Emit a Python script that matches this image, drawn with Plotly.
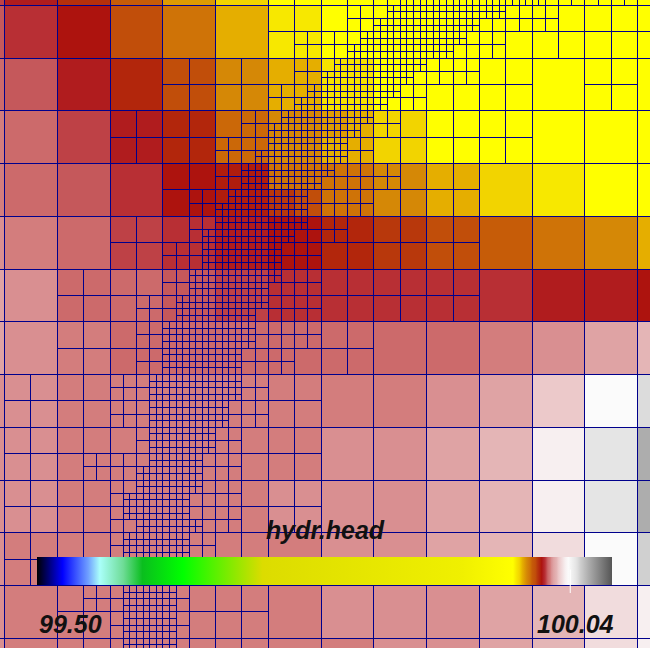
import math
import numpy as np
import plotly.graph_objects as go

# coarse grid indices, the outer ones are only partly inside the view
COLS = list(range(-1, 13))
ROWS = list(range(-1, 13))

# head per coarse cell, row by row (cols -1..12)
head_rm1 = [99.978, 99.975, 99.971, 99.965, 99.958, 99.953, 99.947, 99.947, 99.947, 99.947, 99.947, 99.947, 99.947, 99.947]
head_r0 = [99.979, 99.977, 99.974, 99.968, 99.963, 99.956, 99.950, 99.947, 99.947, 99.947, 99.947, 99.947, 99.947, 99.947]
head_r1 = [99.980, 99.979, 99.975, 99.972, 99.968, 99.960, 99.956, 99.951, 99.947, 99.947, 99.947, 99.947, 99.947, 99.947]
head_r2 = [99.982, 99.980, 99.978, 99.975, 99.972, 99.964, 99.960, 99.956, 99.953, 99.947, 99.947, 99.947, 99.947, 99.947]
head_r3 = [99.982, 99.980, 99.979, 99.977, 99.974, 99.973, 99.965, 99.963, 99.960, 99.956, 99.953, 99.950, 99.947, 99.947]
head_r4 = [99.983, 99.982, 99.980, 99.978, 99.977, 99.975, 99.974, 99.972, 99.970, 99.968, 99.965, 99.963, 99.960, 99.956]
head_r5 = [99.985, 99.983, 99.980, 99.980, 99.979, 99.978, 99.977, 99.977, 99.977, 99.977, 99.977, 99.975, 99.975, 99.974]
head_r6 = [99.985, 99.983, 99.982, 99.980, 99.980, 99.980, 99.980, 99.980, 99.980, 99.980, 99.982, 99.983, 99.985, 99.988]
head_r7 = [99.983, 99.983, 99.982, 99.982, 99.982, 99.982, 99.982, 99.982, 99.982, 99.983, 99.985, 99.990, 99.999, 100.008]
head_r8 = [99.983, 99.983, 99.982, 99.982, 99.982, 99.982, 99.982, 99.983, 99.983, 99.985, 99.988, 99.996, 100.006, 100.018]
head_r9 = [99.983, 99.983, 99.982, 99.982, 99.982, 99.982, 99.983, 99.983, 99.983, 99.985, 99.988, 99.996, 100.006, 100.018]
head_r10 = [99.983, 99.982, 99.982, 99.982, 99.982, 99.982, 99.982, 99.983, 99.983, 99.985, 99.988, 99.993, 99.999, 100.010]
head_r11 = [99.983, 99.982, 99.982, 99.982, 99.982, 99.982, 99.982, 99.983, 99.983, 99.983, 99.985, 99.988, 99.993, 99.996]
head_r12 = [99.983, 99.982, 99.982, 99.982, 99.982, 99.982, 99.982, 99.982, 99.983, 99.983, 99.985, 99.988, 99.993, 99.996]
HEADS = [head_rm1, head_r0, head_r1, head_r2, head_r3, head_r4, head_r5, head_r6,
         head_r7, head_r8, head_r9, head_r10, head_r11, head_r12]

# half cells that differ from their coarse cell, (half col, half row) -> head
HALF_HEADS = {(10, 6): 99.963, (11, 6): 99.963, (10, 7): 99.970, (11, 7): 99.968, (12, 4): 99.958}

# coarse cells split in two, row -> cols
SPLIT_COARSE = {
    -1: [5, 6, 7, 8, 9, 10, 11],
    0: [5, 6, 7, 8, 9, 10, 11, 12],
    1: [3, 4, 5, 6, 7, 8, 9, 11],
    2: [2, 3, 4, 5, 6, 7, 8, 9],
    3: [3, 4, 5, 6, 7, 8],
    4: [2, 3, 4, 5, 6, 7, 8],
    5: [1, 2, 3, 4, 5, 6, 7, 8],
    6: [1, 2, 3, 4, 5, 6],
    7: [0, 1, 2, 3, 4, 5],
    8: [0, 1, 2, 3, 4, 5],
    9: [0, 1, 2, 3, 4, 5],
    10: [0, 1, 2, 3, 4],
    11: [1, 2, 3, 4],
    12: [1, 2, 3, 4],
}

# half cells split again, half row -> (first, end) in quarter columns
SPLIT_HALF = {
    -1: (28, 48), 0: (26, 42), 1: (22, 38), 2: (22, 36), 3: (20, 32), 4: (18, 30), 5: (16, 28),
    6: (16, 30), 7: (14, 28), 8: (14, 26), 9: (12, 24), 10: (12, 24), 11: (10, 24), 12: (10, 24),
    13: (10, 22), 14: (8, 20), 15: (8, 20), 16: (10, 18), 17: (6, 18), 18: (8, 18), 19: (8, 18),
    20: (8, 16), 21: (8, 16), 22: (6, 14), 23: (8, 14), 24: (8, 14),
}

# quarter cells split again, quarter row -> (first, end) in quarter columns
SPLIT_QUARTER = {
    -1: (30, 41), 0: (29, 38), 1: (28, 36), 2: (27, 35), 3: (26, 34), 4: (25, 32), 5: (24, 31),
    6: (23, 30), 7: (22, 29), 8: (21, 28), 9: (20, 27), 10: (20, 26), 11: (19, 26), 12: (18, 25),
    13: (18, 24), 14: (17, 23), 15: (16, 23), 16: (16, 23), 17: (15, 22), 18: (15, 21), 19: (15, 21),
    20: (14, 21), 21: (14, 20), 22: (13, 20), 23: (13, 19), 24: (12, 19), 25: (12, 19), 26: (12, 18),
    27: (12, 18), 28: (11, 18), 29: (11, 18), 30: (11, 17), 31: (11, 17), 32: (11, 16), 33: (11, 16),
    34: (11, 15), 35: (10, 15), 36: (10, 15), 37: (9, 14), 38: (9, 14), 39: (10, 15), 40: (9, 14),
    41: (9, 14), 42: (9, 14), 43: (9, 13), 44: (9, 13), 45: (9, 13), 46: (9, 13), 47: (9, 13), 48: (9, 13),
}

# colour table of the bar
STOP_HEADS = [99.5, 99.524, 99.548, 99.559, 99.581, 99.599, 99.637, 99.712, 99.90, 99.947, 99.950, 99.953,
              99.956, 99.960, 99.963, 99.965, 99.968, 99.970, 99.972, 99.974, 99.975, 99.977, 99.978, 99.979,
              99.980, 99.982, 99.983, 99.985, 99.988, 99.990, 99.993, 99.996, 99.999, 100.006, 100.008,
              100.010, 100.018, 100.04]
STOP_COLORS = ['#000000', '#0000ff', '#6f9fff', '#aafffa', '#6edc96', '#0abe1e', '#00ff00', '#dcdc00', '#f0f000',
               '#ffff00', '#f7e800', '#f2d400', '#e5ae00', '#d58806', '#cf7307', '#c65c08', '#c14e0a', '#b8380c',
               '#b2260c', '#ad130e', '#b01c1e', '#b82f34', '#be4146', '#c5585b', '#cc6a6b', '#d37d7d', '#d98f91',
               '#dfa3a4', '#e4b5b6', '#ecc9ca', '#f1dcdd', '#f7eff0', '#fbfbfb', '#e5e5e5', '#dcdcdc', '#d0d0d0',
               '#adadad', '#555555']

VALUE_MARK = 100.0008
LABEL_MIN = '99.50'
LABEL_MAX = '100.04'
BAR_TITLE = 'hydr.head'

W, H = 650, 648
X0, DX = 4.5, 52.77
Y0, DY = 5.3, 52.75


def snap(u, o, d):
    # keep a mesh line on one row of pixels, as the original raster does
    return (math.floor(o + d * u) + 0.5 - o) / d


def build_mesh():
    coarse = {(c, r) for r, cs in SPLIT_COARSE.items() for c in cs}
    half = set()
    for v, (a, b) in SPLIT_HALF.items():
        for q in range(a, b, 2):
            half.add((q // 2, v))
    quarter = set()
    for r, (a, b) in SPLIT_QUARTER.items():
        for q in range(a, b):
            quarter.add((q, r))

    xs, ys = [], []

    def box(x, y, s):
        x1, x2 = snap(x, X0, DX), snap(x + s, X0, DX)
        y1, y2 = snap(y, Y0, DY), snap(y + s, Y0, DY)
        xs.extend([x1, x2, x2, x1, x1, None])
        ys.extend([y1, y1, y2, y2, y1, None])

    for r in ROWS:
        for c in COLS:
            if (c, r) not in coarse:
                box(c, r, 1)
                continue
            for hx in (2 * c, 2 * c + 1):
                for hy in (2 * r, 2 * r + 1):
                    if (hx, hy) not in half:
                        box(hx / 2, hy / 2, 0.5)
                        continue
                    for qx in (2 * hx, 2 * hx + 1):
                        for qy in (2 * hy, 2 * hy + 1):
                            if (qx, qy) not in quarter:
                                box(qx / 4, qy / 4, 0.25)
                                continue
                            for fx in (2 * qx, 2 * qx + 1):
                                for fy in (2 * qy, 2 * qy + 1):
                                    box(fx / 8, fy / 8, 0.125)
    return xs, ys


mesh_x, mesh_y = build_mesh()
scale = [[(h - STOP_HEADS[0]) / (STOP_HEADS[-1] - STOP_HEADS[0]), c] for h, c in zip(STOP_HEADS, STOP_COLORS)]

# heads on the half cell raster
z = np.repeat(np.repeat(np.array(HEADS), 2, axis=0), 2, axis=1)
for (hx, hy), val in HALF_HEADS.items():
    z[hy - 2 * ROWS[0], hx - 2 * COLS[0]] = val
edges_x = [COLS[0] + k / 2 for k in range(z.shape[1] + 1)]
edges_y = [ROWS[0] + k / 2 for k in range(z.shape[0] + 1)]

fig = go.Figure()
fig.add_trace(go.Heatmap(
    x=edges_x, y=edges_y, z=z,
    colorscale=scale, zmin=STOP_HEADS[0], zmax=STOP_HEADS[-1], hoverinfo='skip',
    colorbar=dict(orientation='h', x=37 / W, xanchor='left', y=(H - 585) / H, yanchor='bottom',
                  len=575, lenmode='pixels', thickness=28, thicknessmode='pixels',
                  xpad=0, ypad=0, outlinewidth=0, borderwidth=0, ticks='', showticklabels=False),
))
fig.add_trace(go.Scatter(x=mesh_x, y=mesh_y, mode='lines', line=dict(color='#00008c', width=1),
                         hoverinfo='skip', showlegend=False))

txt = dict(family='Liberation Sans', size=25, color='#111111')
for label, px, py in [(BAR_TITLE, 325, 530), (LABEL_MIN, 70, 624), (LABEL_MAX, 575, 624)]:
    fig.add_annotation(x=px / W, y=(H - py) / H, xref='paper', yref='paper', xanchor='center', yanchor='middle',
                       text='<b><i>%s</i></b>' % label, showarrow=False, font=txt)
# white mark on the bar for the current value
mark_px = 37 + 575 * (VALUE_MARK - STOP_HEADS[0]) / (STOP_HEADS[-1] - STOP_HEADS[0])
fig.add_annotation(x=mark_px / W, y=(H - 593) / H, xref='paper', yref='paper', text='', showarrow=True,
                   ax=0, ay=-25, arrowhead=0, arrowwidth=1, arrowcolor='#ffffff', standoff=0, startstandoff=0)

fig.update_xaxes(range=[(0 - X0) / DX, (W - X0) / DX], visible=False, showgrid=False, zeroline=False)
fig.update_yaxes(range=[(H - Y0) / DY, (0 - Y0) / DY], visible=False, showgrid=False, zeroline=False)
fig.update_layout(width=W, height=H, margin=dict(l=0, r=0, t=0, b=0, pad=0, autoexpand=False),
                  showlegend=False, paper_bgcolor='white', plot_bgcolor='white')

fig.write_html("out.html", config={'displayModeBar': False}, post_script=(
    "document.body.style.margin='0';document.body.style.overflow='hidden';"
))
